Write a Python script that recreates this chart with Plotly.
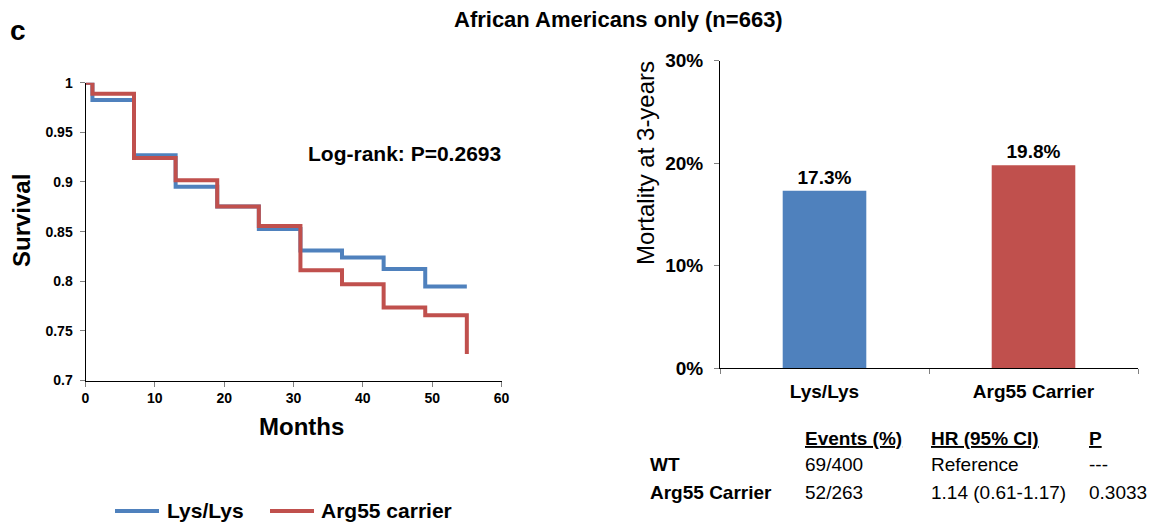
import plotly.graph_objects as go

# ---- data ----
months = [0, 1, 7, 13, 19, 25, 31, 37, 43, 49, 55]
surv_lys = [1.0, 0.9826, 0.927, 0.8953, 0.8752, 0.8527, 0.8309, 0.8238, 0.8124, 0.7946, 0.7946]
surv_arg = [1.0, 0.9889, 0.9242, 0.9017, 0.8752, 0.8557, 0.8111, 0.797, 0.7735, 0.7658, 0.7658]
arg_final_month = 55
arg_final_surv = 0.7268

groups = ["Lys/Lys", "Arg55 Carrier"]
mortality = [17.3, 19.8]
mort_labels = ["17.3%", "19.8%"]

y_ticks_left = [0.7, 0.75, 0.8, 0.85, 0.9, 0.95, 1.0]
y_ticktext_left = ["0.7", "0.75", "0.8", "0.85", "0.9", "0.95", "1"]
x_ticks_left = [0, 10, 20, 30, 40, 50, 60]
y_ticks_right = [0, 10, 20, 30]
y_ticktext_right = ["0%", "10%", "20%", "30%"]

legend_names = ["Lys/Lys", "Arg55 carrier"]

table_header = ["Events (%)", "HR (95% CI)", "P"]
table_rows = ["WT", "Arg55 Carrier"]
table_events = ["69/400", "52/263"]
table_hr = ["Reference", "1.14 (0.61-1.17)"]
table_p = ["---", "0.3033"]

BLUE = "#4F81BD"
RED = "#C0504D"
FONT = "Liberation Sans, Arial, sans-serif"
W, H = 1155, 523

def px(x):
    return x / W

def py(y):
    return 1 - y / H

fig = go.Figure()

fig.add_trace(go.Scatter(
    x=months, y=surv_lys, mode="lines", line=dict(shape="hv", color=BLUE, width=4),
    name=legend_names[0], xaxis="x", yaxis="y", showlegend=False))
fig.add_trace(go.Scatter(
    x=months + [arg_final_month], y=surv_arg + [arg_final_surv], mode="lines",
    line=dict(shape="hv", color=RED, width=4),
    name=legend_names[1], xaxis="x", yaxis="y", showlegend=False))

fig.add_trace(go.Bar(
    x=groups, y=mortality, marker=dict(color=[BLUE, RED], line=dict(width=0)),
    width=0.4, text=mort_labels, textposition="outside", cliponaxis=False,
    textfont=dict(family=FONT, size=19, color="black", weight="bold"),
    showlegend=False, xaxis="x2", yaxis="y2"))

axis_common = dict(showline=True, linecolor="black", linewidth=1, ticks="outside",
                   ticklen=5, tickcolor="#808080", showgrid=False, zeroline=False,
                   mirror=False, automargin=False)

fig.update_layout(
    width=W, height=H, margin=dict(l=0, r=0, t=0, b=0, autoexpand=False),
    plot_bgcolor="white", paper_bgcolor="white",
    font=dict(family=FONT, color="black"),
    xaxis=dict(domain=[px(85.5), px(501.5)], range=[0, 60], tickvals=x_ticks_left,
               tickfont=dict(size=14, weight="bold"), anchor="y", **axis_common),
    yaxis=dict(domain=[py(380.5), py(82.7)], range=[0.7, 1.0], tickvals=y_ticks_left,
               ticktext=y_ticktext_left, tickfont=dict(size=14, weight="bold"),
               ticklabelstandoff=4, anchor="x", **axis_common),
    xaxis2=dict(domain=[px(720), px(1138)], range=[-0.5, 1.5], type="category",
                tickson="boundaries", tickfont=dict(size=19, weight="bold"),
                ticklabelstandoff=6, anchor="y2", **axis_common),
    yaxis2=dict(domain=[py(368.3), py(60.5)], range=[0, 30], tickvals=y_ticks_right,
                ticktext=y_ticktext_right, tickfont=dict(size=19, weight="bold"),
                ticklabelstandoff=7, anchor="x2", **axis_common),
    showlegend=False,
)

ann = []
def text(x, y, s, size, bold=False, xanchor="left", angle=0):
    ann.append(dict(x=px(x), y=py(y), xref="paper", yref="paper", text=s, showarrow=False,
                    xanchor=xanchor, yanchor="middle", textangle=angle,
                    font=dict(family=FONT, size=size, color="black",
                              weight="bold" if bold else "normal")))

text(618, 20, "African Americans only (n=663)", 22, bold=True, xanchor="center")
text(8, 30, "c", 28, bold=True)
text(404, 153, "Log-rank: P=0.2693", 21, bold=True, xanchor="center")
text(21, 221, "Survival", 24, bold=True, xanchor="center", angle=-90)
text(301, 426, "Months", 24, bold=True, xanchor="center")
text(645, 163, "Mortality at 3-years", 24, xanchor="center", angle=-90)

cols = [803, 929, 1087]
for c, h in zip(cols, table_header):
    text(c, 438, "<u>" + h + "</u>", 19, bold=True)
row_y = [464, 492]
for i, ry in enumerate(row_y):
    text(648, ry, table_rows[i], 19, bold=True)
    text(cols[0], ry, table_events[i], 19)
    text(cols[1], ry, table_hr[i], 19)
    text(cols[2], ry, table_p[i], 19)

# legend drawn as shapes + labels
shapes = []
leg_y = 511
for (x0, x1, tx), col, name in zip([(115, 159, 165), (270, 314, 319)], [BLUE, RED], legend_names):
    shapes.append(dict(type="line", xref="paper", yref="paper", x0=px(x0), x1=px(x1),
                       y0=py(leg_y), y1=py(leg_y), line=dict(color=col, width=4)))
    text(tx, leg_y - 1, name, 21, bold=True)

fig.update_layout(annotations=ann, shapes=shapes)
fig.write_html("out.html")
